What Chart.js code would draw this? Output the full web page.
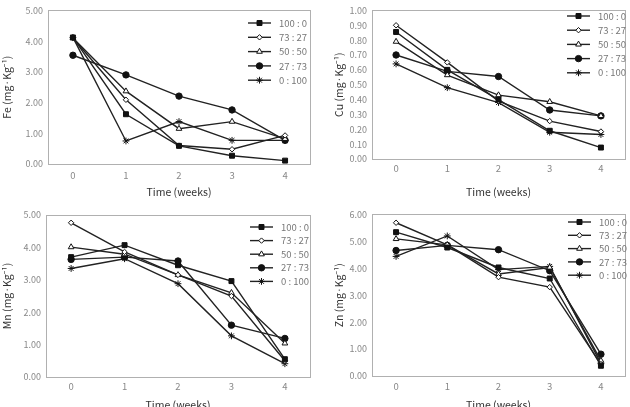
<!DOCTYPE html>
<html>
<head>
<meta charset="utf-8">
<script src="https://cdn.jsdelivr.net/npm/chart.js@4"></script>
<style>
  body { margin: 0; background: #fff; }
  .panel { position: absolute; overflow: hidden; }
</style>
</head>
<body>
<div class="panel" style="left:0;top:0;width:315px;height:204px"><canvas id="fe"></canvas></div>
<div class="panel" style="left:315px;top:0;width:315px;height:204px"><canvas id="cu"></canvas></div>
<div class="panel" style="left:0;top:204px;width:315px;height:203px"><canvas id="mn"></canvas></div>
<div class="panel" style="left:315px;top:204px;width:315px;height:203px"><canvas id="zn"></canvas></div>
<script>
// weeks of incubation and mixing ratios
const weeks = [0, 1, 2, 3, 4];
const ratios = ['100 : 0', '73 : 27', '50 : 50', '27 : 73', '0 : 100'];
const feTicks = ['0.00', '1.00', '2.00', '3.00', '4.00', '5.00'];
const cuTicks = ['0.00', '0.10', '0.20', '0.30', '0.40', '0.50', '0.60', '0.70', '0.80', '0.90', '1.00'];
const mnTicks = ['0.00', '1.00', '2.00', '3.00', '4.00', '5.00'];
const znTicks = ['0.00', '1.00', '2.00', '3.00', '4.00', '5.00', '6.00'];

// one row per ratio, in the order of "ratios"
const feValues = [
  [4.12, 1.62, 0.59, 0.27, 0.11],
  [4.10, 2.09, 0.60, 0.48, 0.93],
  [4.10, 2.37, 1.15, 1.38, 0.82],
  [3.54, 2.90, 2.21, 1.76, 0.77],
  [4.12, 0.75, 1.38, 0.77, 0.77]
];
const cuValues = [
  [0.855, 0.60, 0.40, 0.19, 0.077],
  [0.90, 0.65, 0.39, 0.255, 0.185],
  [0.79, 0.565, 0.43, 0.385, 0.29],
  [0.70, 0.59, 0.555, 0.33, 0.29],
  [0.64, 0.48, 0.38, 0.18, 0.165]
];
const mnValues = [
  [3.70, 4.07, 3.45, 2.96, 0.55],
  [4.76, 3.86, 3.15, 2.50, 0.50],
  [4.01, 3.79, 3.15, 2.60, 1.04],
  [3.63, 3.70, 3.58, 1.60, 1.19],
  [3.35, 3.65, 2.88, 1.27, 0.41]
];
const znValues = [
  [5.34, 4.77, 4.03, 3.62, 0.38],
  [5.69, 4.87, 3.67, 3.30, 0.44],
  [5.09, 4.87, 3.79, 4.03, 0.57],
  [4.66, 4.85, 4.69, 3.91, 0.81],
  [4.44, 5.20, 3.95, 4.07, 0.47]
];

const markers = [
  { style: 'rect', r: 3.5, fill: '#111' },
  { style: 'rectRot', r: 2.7, fill: '#fff' },
  { style: 'triangle', r: 3.3, fill: '#fff' },
  { style: 'circle', r: 3.2, fill: '#111' },
  { style: 'star', r: 3.4, fill: '#fff' }
];

const FONT = "'Noto Sans CJK KR', 'Noto Sans', sans-serif";

// frame round the plot + legend inside it
const boxLegend = {
  id: 'boxLegend',
  afterDatasetsDraw(chart, args, opts) {
    const { ctx, chartArea: a } = chart;
    ctx.save();
    ctx.strokeStyle = '#b0b0b0';
    ctx.lineWidth = 1;
    ctx.strokeRect(Math.round(a.left) + 0.5, Math.round(a.top) + 0.5,
      Math.round(a.right - a.left), Math.round(a.bottom - a.top));
    chart.data.datasets.forEach((ds, i) => {
      const y = opts.y + i * opts.step;
      ctx.strokeStyle = '#222';
      ctx.lineWidth = 1.4;
      ctx.beginPath();
      ctx.moveTo(opts.x, y);
      ctx.lineTo(opts.x + 23, y);
      ctx.stroke();
      ctx.fillStyle = ds.pointBackgroundColor;
      ctx.strokeStyle = '#111';
      ctx.lineWidth = 1;
      Chart.helpers.drawPoint(ctx, { pointStyle: ds.pointStyle, radius: ds.pointRadius, borderWidth: 1 }, opts.x + 11.5, y);
      ctx.fillStyle = '#777';
      ctx.font = '9.5px ' + FONT;
      ctx.textBaseline = 'middle';
      ctx.fillText(ds.label, opts.x + 31, y);
    });
    ctx.restore();
  }
};

function makeChart(id, title, values, ticks, box, legend) {
  const canvas = document.getElementById(id);
  canvas.width = 315;
  canvas.height = box.h;
  const maxY = Number(ticks[ticks.length - 1]);
  new Chart(canvas, {
    type: 'line',
    data: {
      datasets: values.map((vals, i) => ({
        label: ratios[i],
        data: vals.map((v, j) => ({ x: weeks[j], y: v })),
        borderColor: '#222',
        borderWidth: 1.4,
        pointStyle: markers[i].style,
        pointRadius: markers[i].r,
        pointBackgroundColor: markers[i].fill,
        pointBorderColor: '#111',
        pointBorderWidth: 1,
        tension: 0
      }))
    },
    options: {
      responsive: false,
      animation: false,
      events: [],
      layout: { padding: { top: box.top, right: 315 - box.right, left: 0, bottom: 0 } },
      plugins: { legend: { display: false }, tooltip: { enabled: false }, boxLegend: legend },
      scales: {
        x: {
          type: 'linear', min: -0.47, max: 4.47,
          afterBuildTicks: s => { s.ticks = weeks.map(v => ({ value: v })); },
          afterFit: s => { s.height = box.h - box.bottom; },
          grid: { display: false, drawTicks: false },
          border: { color: '#b0b0b0' },
          ticks: { color: '#888', font: { size: 9.5, family: FONT }, padding: box.tickPad, autoSkip: false },
          title: { display: true, text: 'Time (weeks)', color: '#333', font: { size: 10.5, family: FONT }, padding: { top: 0, bottom: box.titlePad } }
        },
        y: {
          min: 0, max: maxY,
          afterBuildTicks: s => { s.ticks = ticks.map(t => ({ value: Number(t) })); },
          afterFit: s => { s.width = box.left; },
          grid: { display: false, drawTicks: false },
          border: { color: '#b0b0b0' },
          ticks: { color: '#888', font: { size: 9, family: FONT }, padding: 5, autoSkip: false,
            callback: (v, i) => ticks[i] },
          title: { display: true, text: title + ' (mg·Kg⁻¹)', color: '#333', font: { size: 10.5, family: FONT }, padding: { top: box.yTitlePad, bottom: 0 } }
        }
      }
    },
    plugins: [boxLegend]
  });
}

makeChart('fe', 'Fe', feValues, feTicks,
  { h: 204, left: 48, right: 310, top: 7, bottom: 164, tickPad: 6, titlePad: 6, yTitlePad: 1 },
  { x: 248, y: 23, step: 14.3 });
makeChart('cu', 'Cu', cuValues, cuTicks,
  { h: 204, left: 57, right: 310, top: 7, bottom: 159, tickPad: 4, titlePad: 6, yTitlePad: 18 },
  { x: 252, y: 16, step: 14.2 });
makeChart('mn', 'Mn', mnValues, mnTicks,
  { h: 214, left: 46, right: 310, top: 11, bottom: 173, tickPad: 4, titlePad: 7, yTitlePad: 1 },
  { x: 250, y: 23, step: 13.6 });
makeChart('zn', 'Zn', znValues, znTicks,
  { h: 214, left: 57, right: 310, top: 9, bottom: 172, tickPad: 5, titlePad: 7, yTitlePad: 18 },
  { x: 253, y: 18, step: 13.3 });
</script>
</body>
</html>
